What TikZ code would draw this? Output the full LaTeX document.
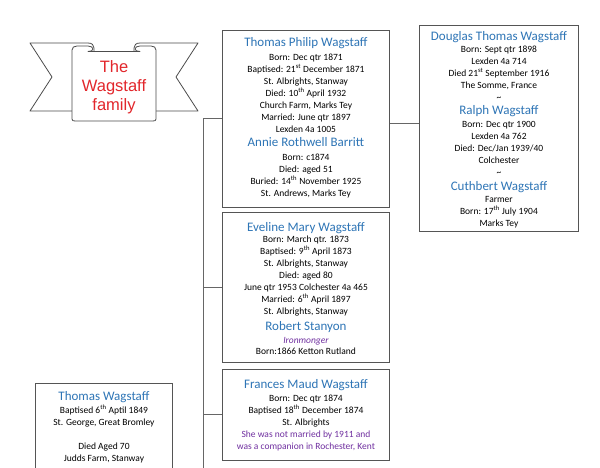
\documentclass[tikz,border=0pt]{standalone}
\usepackage{fontspec}
\setmainfont{Carlito}
\newfontfamily\bannerfont{Liberation Sans}
\definecolor{nameblue}{HTML}{2E75B6}
\definecolor{purp}{HTML}{7030A0}
\definecolor{bred}{HTML}{E2262B}
\definecolor{boxline}{HTML}{555555}
\definecolor{conn}{HTML}{666666}
\newcommand{\pname}[1]{{\fontsize{13}{14}\selectfont\color{nameblue}#1}}
\newcommand{\sups}[1]{\textsuperscript{#1}}
\tikzset{
  person/.style={draw=boxline, line width=0.9pt, fill=white, inner sep=0pt, anchor=north west},
  info/.style={align=center, anchor=north, inner sep=0pt, font=\fontsize{9.5}{12}\selectfont},
  link/.style={draw=conn, line width=1pt},
  ribbon/.style={draw=black!70, line width=0.8pt, fill=white, line join=round},
  banner/.style={align=center, inner sep=0pt, text=bred, font=\bannerfont\fontsize{16.5}{19}\selectfont}
}
\begin{document}
\begin{tikzpicture}[x=1pt,y=-1pt]
\useasboundingbox (0,0) rectangle (600,468);
\begin{scope}
\clip (0,0) rectangle (600,468);

% banner
\draw[ribbon] (30,43) -- (88,43) .. controls (92,43) and (94,45) .. (94,48) -- (94,111) -- (30,111) -- (52,77) -- cycle;
\draw[ribbon] (198,43) -- (140,43) .. controls (136,43) and (134,45) .. (134,48) -- (134,111) -- (198,111) -- (176,77) -- cycle;
\draw[ribbon] (72,119) .. controls (72,120.5) and (73,121) .. (75,121) -- (153,121) .. controls (155,121) and (156,120.5) .. (156,119)
  -- (156,50) .. controls (156,47.5) and (154,46) .. (151,46) -- (140,46) .. controls (137,46) and (135,47.5) .. (135,49)
  .. controls (135,50.5) and (137,51.5) .. (140,51.5) -- (88,51.5) .. controls (91,51.5) and (93,50.5) .. (93,49)
  .. controls (93,47.5) and (91,46) .. (88,46) -- (77,46) .. controls (74,46) and (72,47.5) .. (72,50) -- cycle;
\node[banner] (title) at (114,87) {The\\Wagstaff\\family};

% person boxes
\node[person, minimum width=167pt, minimum height=177pt] (tp) at (222,30) {};
\node[person, minimum width=167pt, minimum height=150pt] (ev) at (222,212) {};
\node[person, minimum width=167pt, minimum height=91pt] (fm) at (222,369) {};
\node[person, minimum width=159pt, minimum height=206pt] (dg) at (419,25) {};
\node[person, minimum width=137pt, minimum height=120pt] (tw) at (35,383) {};

\node[info] (tpt) at ([yshift=-7.5pt]tp.north) {%
\pname{Thomas Philip Wagstaff}\\[1.5pt]
Born: Dec qtr 1871\\
Baptised: 21\sups{st} December 1871\\
St. Albrights, Stanway\\
Died: 10\sups{th} April 1932\\
Church Farm, Marks Tey\\
Married: June qtr 1897\\
Lexden 4a 1005\\[2.5pt]
\pname{Annie Rothwell Barritt}\\[1.5pt]
Born: c1874\\
Died: aged 51\\
Buried: 14\sups{th} November 1925\\
St. Andrews, Marks Tey};

\node[info] (evt) at ([yshift=-10pt]ev.north) {%
\pname{Eveline Mary Wagstaff}\\[-0.5pt]
Born: March qtr. 1873\\
Baptised: 9\sups{th} April 1873\\
St. Albrights, Stanway\\
Died: aged 80\\
June qtr 1953 Colchester 4a 465\\
Married: 6\sups{th} April 1897\\
St. Albrights, Stanway\\[3.5pt]
\pname{Robert Stanyon}\\[1pt]
{\color{purp}\itshape\fontsize{9.5}{11}\selectfont Ironmonger}\\[-1pt]
Born:1866 Ketton Rutland};

\node[info] (fmt) at ([yshift=-10.5pt]fm.north) {%
\pname{Frances Maud Wagstaff}\\[1pt]
Born: Dec qtr 1874\\
Baptised 18\sups{th} December 1874\\
St. Albrights\\
{\color{purp}She was not married by 1911 and}\\
{\color{purp}was a companion in Rochester, Kent}};

\node[info] (dgt) at ([yshift=-6.5pt]dg.north) {%
\pname{Douglas Thomas Wagstaff}\\[-0.5pt]
Born: Sept qtr 1898\\
Lexden 4a 714\\
Died 21\sups{st} September 1916\\
The Somme, France\\
\textasciitilde\\[2.5pt]
\pname{Ralph Wagstaff}\\[1pt]
Born: Dec qtr 1900\\
Lexden 4a 762\\
Died: Dec/Jan 1939/40\\
Colchester\\
\textasciitilde\\[2.5pt]
\pname{Cuthbert Wagstaff}\\[0pt]
Farmer\\
Born: 17\sups{th} July 1904\\
Marks Tey};

\node[info] (twt) at ([yshift=-8.5pt]tw.north) {%
\pname{Thomas Wagstaff}\\[1pt]
Baptised 6\sups{th} Aptil 1849\\
St. George, Great Bromley\\
\mbox{}\\
Died Aged 70\\
Judds Farm, Stanway};

% connectors
\coordinate (trunk) at (203,0);
\coordinate (trunkend) at (203,480);
\draw[link] (tp.west) -- (tp.west -| trunk) -- (trunkend);
\draw[link] (ev.west) -- (ev.west -| trunk);
\draw[link] (fm.west) -- (fm.west -| trunk);
\draw[link] ([yshift=-4.5pt]tp.east) -- ([yshift=-4.5pt]tp.east -| dg.west);
\end{scope}
\end{tikzpicture}
\end{document}
